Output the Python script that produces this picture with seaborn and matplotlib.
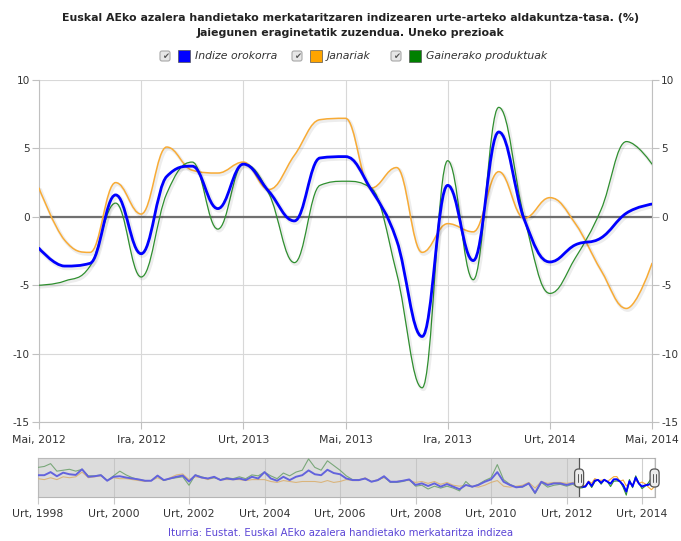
import numpy as np
import pandas as pd
import matplotlib
matplotlib.use("Agg")
import matplotlib.pyplot as plt
import seaborn as sns
from matplotlib.path import Path
from matplotlib.patches import PathPatch, Rectangle, FancyBboxPatch
from matplotlib.transforms import IdentityTransform
import matplotlib.patheffects as pe

# Hileko datuak, 2012ko maiatza - 2014ko maiatza
months = list(range(25))
indize = [-2.3, -3.6, -3.4, 1.6, -2.7, 2.95, 3.7, 0.6, 3.85, 1.85, -0.3, 4.3, 4.4,
          2.0, -1.7, -8.75, 2.3, -3.2, 6.2, -0.2, -3.3, -2.05, -1.55, 0.27, 0.93]
janariak = [2.1, -1.7, -2.6, 2.5, 0.2, 5.1, 3.4, 3.2, 4.0, 2.0, 4.5, 7.1, 7.2,
            2.1, 3.6, -2.6, -0.5, -1.1, 3.3, -0.1, 1.4, -0.5, -3.9, -6.7, -3.4]
gainerako = [-5.0, -4.7, -3.6, 1.0, -4.4, 1.7, 4.0, -0.9, 3.85, 1.7, -3.35, 2.3, 2.6,
             2.1, -4.1, -12.5, 4.1, -4.6, 8.0, -0.1, -5.6, -3.0, 0.5, 5.5, 3.85]
x_ticks = [0, 4, 8, 12, 16, 20, 24]
x_labels = ["Mai, 2012", "Ira, 2012", "Urt, 2013", "Mai, 2013",
            "Ira, 2013", "Urt, 2014", "Mai, 2014"]

# Nabigatzailea: 1998ko urtarrila - 2012ko martxoa, bi hilean behin irakurrita
nav_blue = [8.7, 8.7, 12, 7.6, 11.4, 9.7, 9, 15, 7, 7.6, 8.7, 2.8, 7, 7.6, 6.2, 5.2,
            4.2, 2.8, 2.8, 8.3, 3.5, 5.2, 7, 8.3, 2,
            8.7, 6.2, 5.2, 7, 3.5, 5.2, 4.2, 5.2, 3.5, 7, 5.2, 12, 5.2, 2.8, 7, 3.5,
            7, 8.7, 13.8, 9.7, 8.7, 14.5, 11, 9.7, 5.2, 3.5,
            3.5, 5.2, 1.7, 3.5, 7.6, 1.7, 1.7, 2.8, 4.2, -1.7, 0, -2.8, 0, -3.5, -0.7,
            -3.5, -6.2, -1.7, -3.5, -1.7, 1.7, 4.2, 12, 1.7, -1.7, -4.2,
            -3.5, 0, -10, 1.7, -1.7, 0, 0, -1.7, 0]
nav_green = [17, 18, 21, 13, 14, 15, 13, 15, 8, 8, 9, 3, 8, 13, 9, 6, 4, 3, 3, 8, 3,
             5, 6, 7, -2,
             9, 7, 5, 6, 4, 6, 5, 7, 5, 9, 8, 12, 8, 5, 11, 8, 12, 14, 26, 17, 14, 24,
             19, 14, 8, 4,
             4, 5, 2, 3, 7, 1, 1, 2, 4, -3, -2, -6, -3, -5, -3, -5, -8, 2, -4, -1, 3,
             6, 20, 4, -1, -4,
             -4, 0, -11, 1, -4, -2, -1, -3, -1]
nav_orange = [5, 4, 6, 4, 7, 6, 7, 12, 6, 7, 8, 3, 6, 5, 5, 4, 3, 2, 3, 6, 3, 6, 9,
              10, 4,
              7, 6, 4, 6, 4, 4, 4, 4, 3, 4, 4, 4, 2, 1, 3, 2, 1, 2, 2, 2, 1, 3, 1, 2,
              4, 3,
              3, 6, 2, 4, 6, 2, 2, 3, 3, 1, 2, 0, 2, -1, 1, -2, -3, -2, -3, -4, -2, 1,
              3, -3, -4, -3,
              -2, 1, -5, 2, 0, 1, 1, 0, 1]
nav_ticks = list(range(0, 193, 24))
nav_labels = ["Urt, %d" % y for y in range(1998, 2015, 2)]

BLUE = "#0000ff"
ORANGE = "#f8ab35"
GREEN = "#2f8f2f"
TXT = "#333333"
GRID = "#d8d8d8"


def spline_path(xs, ys, smoothing=1.5):
    # highcharts-en spline kurba, bezier kontrol puntuekin
    n = len(xs)
    left = [None] * n
    right = [None] * n
    for i in range(n):
        x, y = xs[i], ys[i]
        if 0 < i < n - 1:
            lx, ly = xs[i - 1], ys[i - 1]
            nx, ny = xs[i + 1], ys[i + 1]
            d = smoothing + 1
            lcx, lcy = (smoothing * x + lx) / d, (smoothing * y + ly) / d
            rcx, rcy = (smoothing * x + nx) / d, (smoothing * y + ny) / d
            if rcx != lcx:
                corr = (rcy - lcy) * (rcx - x) / (rcx - lcx) + y - rcy
                lcy += corr
                rcy += corr
            if lcy > ly and lcy > y:
                lcy = max(ly, y); rcy = 2 * y - lcy
            elif lcy < ly and lcy < y:
                lcy = min(ly, y); rcy = 2 * y - lcy
            if rcy > ny and rcy > y:
                rcy = max(ny, y); lcy = 2 * y - rcy
            elif rcy < ny and rcy < y:
                rcy = min(ny, y); lcy = 2 * y - rcy
            left[i], right[i] = (lcx, lcy), (rcx, rcy)
        else:
            left[i] = right[i] = (x, y)
    verts = [(xs[0], ys[0])]
    codes = [Path.MOVETO]
    for i in range(1, n):
        verts += [right[i - 1], left[i], (xs[i], ys[i])]
        codes += [Path.CURVE4] * 3
    return Path(verts, codes)


sns.set_theme(style="white")
plt.rcParams["font.family"] = ["DejaVu Sans"]
plt.rcParams["axes.unicode_minus"] = False

W, H = 681, 541
fig = plt.figure(figsize=(W / 100, H / 100), dpi=100)

# 1. Grafiko nagusia
ax = fig.add_axes([39 / W, 1 - 422 / H, 613 / W, 342 / H])
ax.set_xlim(0, 24)
ax.set_ylim(-15, 10)
ax.set_yticks(range(-15, 11, 5))
ax.set_xticks(x_ticks)
ax.set_xticklabels(x_labels)
ax.grid(True, color=GRID, lw=0.8)
ax.set_axisbelow(True)
for s in ["left", "right", "bottom"]:
    ax.spines[s].set_color("#c0c0c0")
    ax.spines[s].set_linewidth(0.8)
ax.spines["top"].set_visible(False)
ax.tick_params(axis="y", left=True, right=True, labelright=True, length=5,
               width=0.8, color="#c0c0c0", labelsize=7.6, labelcolor=TXT, pad=1.5)
ax.tick_params(axis="x", bottom=True, length=5, width=0.8, color="#c0c0c0",
               labelsize=7.8, labelcolor=TXT, pad=4)
ax.axhline(0, color="#707070", lw=1.6, zorder=2)

series = [(janariak, ORANGE, 1.1), (gainerako, GREEN, 0.9), (indize, BLUE, 2.0)]
for vals, col, lw in series:
    patch = PathPatch(spline_path(months, vals), facecolor="none", edgecolor=col,
                      lw=lw, zorder=3, capstyle="round", joinstyle="round")
    patch.set_path_effects([pe.Stroke(offset=(1, -1.2), linewidth=lw + 1.5,
                                      foreground="#000000", alpha=0.07),
                            pe.Normal()])
    ax.add_patch(patch)

# 2. Izenburua eta legenda
fig.text(351 / W, 1 - 18 / H,
         "Euskal AEko azalera handietako merkataritzaren indizearen urte-arteko aldakuntza-tasa. (%)",
         ha="center", va="center", fontsize=7.9, fontweight="bold", color="#222222")
fig.text(351 / W, 1 - 33 / H, "Jaiegunen eraginetatik zuzendua. Uneko prezioak",
         ha="center", va="center", fontsize=7.9, fontweight="bold", color="#222222")

ident = IdentityTransform()
legend_items = [(160, BLUE, "Indize orokorra"), (292, "#ffa500", "Janariak"),
                (391, "#008000", "Gainerako produktuak")]
ly = H - 56
for x0, col, lab in legend_items:
    fig.patches.append(FancyBboxPatch((x0, ly - 5), 10, 10,
                                      boxstyle="round,pad=0,rounding_size=2",
                                      fc="#e6e6e6", ec="#a8a8a8", lw=0.8,
                                      transform=ident, figure=fig))
    fig.text(x0 + 5.5, ly, "\u2714", transform=ident, ha="center", va="center",
             fontsize=6, color="#555555")
    fig.patches.append(Rectangle((x0 + 18, ly - 6), 12, 12, fc=col, ec="#555555",
                                 lw=0.5, transform=ident, figure=fig))
    fig.text(x0 + 35, ly, lab, transform=ident, ha="left", va="center",
             fontsize=7.8, style="italic", color=TXT)

# 3. Nabigatzailea
nav = fig.add_axes([38 / W, 1 - 497 / H, 616.6 / W, 39 / H])
nav.set_xlim(0, 196)
nav.set_ylim(-14.5, 27)
nav.set_yticks([])
nav.set_xticks(nav_ticks)
nav.set_xticklabels(nav_labels)
nav.grid(True, axis="x", color="#cfcfcf", lw=0.8)
nav.set_axisbelow(True)
for s in nav.spines.values():
    s.set_color("#b5b5b5")
    s.set_linewidth(0.8)
nav.tick_params(axis="x", bottom=True, length=5, width=0.8, color="#c8c8c8",
                labelsize=7.8, labelcolor=TXT, pad=4)

nav_x = [2 * k for k in range(len(nav_blue))] + [172 + m for m in months]
nav_df = pd.DataFrame({
    "hila": nav_x * 3,
    "balioa": nav_orange + janariak + nav_green + gainerako + nav_blue + indize,
    "serie": ["Janariak"] * len(nav_x) + ["Gainerako"] * len(nav_x)
             + ["Indize"] * len(nav_x),
})
for name, col, lw in [("Janariak", ORANGE, 0.8), ("Gainerako", GREEN, 0.8),
                      ("Indize", BLUE, 1.4)]:
    sns.lineplot(data=nav_df[nav_df["serie"] == name], x="hila", y="balioa",
                 color=col, lw=lw, ax=nav, legend=False, zorder=3)
nav.set_xlabel("")
nav.set_ylabel("")

nav.axvspan(0, 172, color=(190 / 255,) * 3, alpha=0.525, lw=0, zorder=5)
for xm in [172, 196]:
    nav.axvline(xm, color="#555555", lw=0.9, zorder=6)
    px = nav.transData.transform((xm, 0))[0]
    py = H - 478
    fig.patches.append(FancyBboxPatch((px - 4.5, py - 9), 9, 18,
                                      boxstyle="round,pad=0,rounding_size=4",
                                      fc="#ebebeb", ec="#555555", lw=0.9,
                                      transform=ident, figure=fig, zorder=10))
    for dx in (-1.5, 1.5):
        fig.lines.append(plt.Line2D([px + dx, px + dx], [py - 4, py + 4],
                                    color="#555555", lw=0.7, transform=ident,
                                    figure=fig, zorder=11))

# 4. Iturria
fig.text(341 / W, 1 - 533 / H,
         "Iturria: Eustat. Euskal AEko azalera handietako merkataritza indizea",
         ha="center", va="center", fontsize=7.3, color="#5b45d6")

fig.savefig("out.png", dpi=100)
